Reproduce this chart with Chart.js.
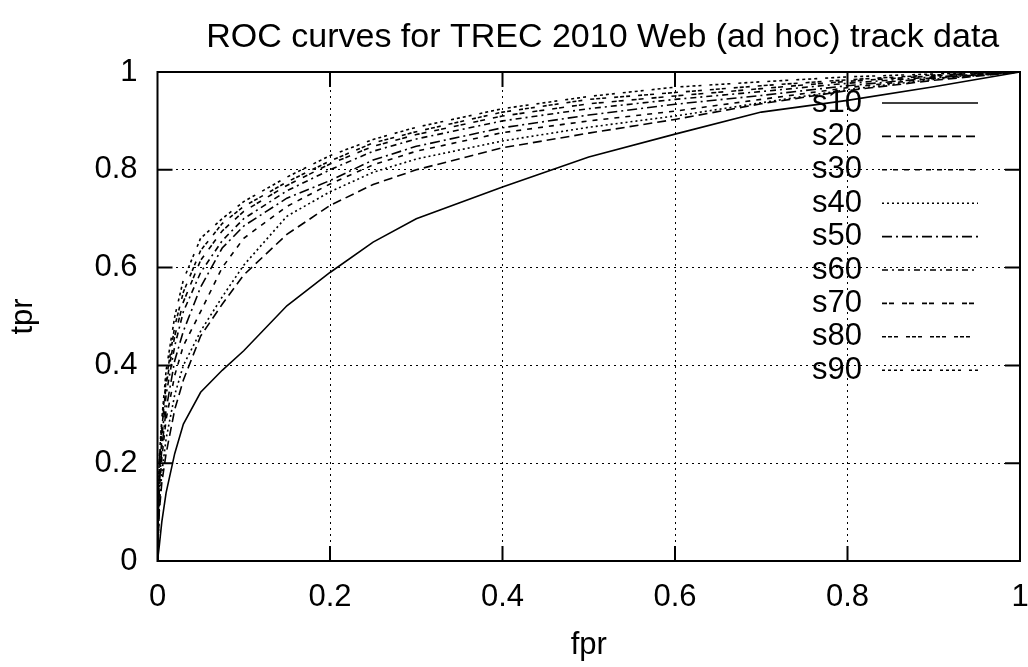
<!DOCTYPE html>
<html>
<head>
<meta charset="utf-8">
<script src="https://cdn.jsdelivr.net/npm/chart.js@4.4.0/dist/chart.umd.min.js"></script>
<style>
  html, body { margin: 0; padding: 0; background: #fff; }
  #wrap { width: 1028px; height: 667px; }
</style>
</head>
<body>
<div id="wrap"><canvas id="rocChart"></canvas></div>
<script>
// ROC data (same fpr points for every curve)
const fpr = [0, 0.002, 0.005, 0.01, 0.02, 0.03, 0.05, 0.075, 0.1, 0.15, 0.2, 0.25, 0.3, 0.4, 0.5, 0.6, 0.7, 0.8, 0.9, 1];

const s10 = [0, 0.03, 0.08, 0.14, 0.22, 0.28, 0.345, 0.39, 0.43, 0.522, 0.59, 0.652, 0.70, 0.765, 0.826, 0.873, 0.918, 0.942, 0.97, 1];
const s20 = [0, 0.10, 0.16, 0.22, 0.31, 0.37, 0.46, 0.525, 0.585, 0.668, 0.727, 0.77, 0.80, 0.845, 0.875, 0.903, 0.935, 0.962, 0.983, 1];
const s30 = [0, 0.14, 0.21, 0.29, 0.38, 0.44, 0.51, 0.60, 0.66, 0.725, 0.771, 0.81, 0.838, 0.876, 0.90, 0.92, 0.944, 0.968, 0.987, 1];
const s40 = [0, 0.11, 0.18, 0.25, 0.34, 0.40, 0.47, 0.54, 0.605, 0.705, 0.755, 0.795, 0.822, 0.859, 0.887, 0.91, 0.937, 0.964, 0.985, 1];
const s50 = [0, 0.15, 0.23, 0.31, 0.41, 0.47, 0.56, 0.64, 0.685, 0.742, 0.778, 0.82, 0.848, 0.886, 0.912, 0.934, 0.952, 0.972, 0.988, 1];
const s60 = [0, 0.17, 0.25, 0.34, 0.44, 0.51, 0.59, 0.655, 0.70, 0.757, 0.80, 0.838, 0.863, 0.90, 0.925, 0.944, 0.96, 0.977, 0.99, 1];
const s70 = [0, 0.19, 0.27, 0.36, 0.46, 0.53, 0.615, 0.675, 0.715, 0.768, 0.812, 0.848, 0.872, 0.91, 0.935, 0.951, 0.966, 0.981, 0.992, 1];
const s80 = [0, 0.20, 0.28, 0.37, 0.48, 0.55, 0.635, 0.69, 0.725, 0.775, 0.818, 0.855, 0.878, 0.918, 0.944, 0.958, 0.972, 0.984, 0.994, 1];
const s90 = [0, 0.21, 0.29, 0.39, 0.50, 0.575, 0.66, 0.70, 0.735, 0.785, 0.829, 0.862, 0.887, 0.925, 0.95, 0.969, 0.98, 0.99, 0.996, 1];

const seriesNames = ["s10", "s20", "s30", "s40", "s50", "s60", "s70", "s80", "s90"];
const seriesTpr = [s10, s20, s30, s40, s50, s60, s70, s80, s90];

const axisTicks = [0, 0.2, 0.4, 0.6, 0.8, 1];
const chartTitle = "ROC curves for TREC 2010 Web (ad hoc) track data";

// gnuplot-ish line types
const dashes = [
  [],
  [9, 5],
  [5, 6],
  [2, 3],
  [10, 4, 2, 4],
  [6, 4, 2, 4],
  [5, 2, 5, 8],
  [4, 2, 4, 2, 4, 8],
  [3, 3, 3, 3, 3, 3, 3, 8],
];

const fontFam = '"Liberation Sans", Arial, sans-serif';

const datasets = seriesNames.map((name, i) => ({
  label: name,
  data: fpr.map((f, j) => ({ x: f, y: seriesTpr[i][j] })),
  borderColor: "#000",
  borderWidth: 1.6,
  borderDash: dashes[i],
  pointRadius: 0,
  tension: 0,
  fill: false,
}));

// box, inner tick marks, title and legend like gnuplot draws them
const gnuplotFrame = {
  id: "gnuplotFrame",
  afterDraw(chart) {
    const { ctx, chartArea: a } = chart;
    const xs = chart.scales.x;
    const ys = chart.scales.y;
    ctx.save();
    ctx.setLineDash([]);
    ctx.strokeStyle = "#000";
    ctx.lineWidth = 2;
    ctx.strokeRect(a.left, a.top, a.right - a.left, a.bottom - a.top);

    const tl = 15;
    ctx.beginPath();
    axisTicks.forEach((v) => {
      if (v <= 0 || v >= 1) return;
      const px = xs.getPixelForValue(v);
      ctx.moveTo(px, a.bottom); ctx.lineTo(px, a.bottom - tl);
      ctx.moveTo(px, a.top); ctx.lineTo(px, a.top + tl);
      const py = ys.getPixelForValue(v);
      ctx.moveTo(a.left, py); ctx.lineTo(a.left + tl, py);
      ctx.moveTo(a.right, py); ctx.lineTo(a.right - tl, py);
    });
    ctx.stroke();

    // title
    ctx.fillStyle = "#000";
    ctx.font = "34px " + fontFam;
    ctx.textAlign = "center";
    ctx.textBaseline = "middle";
    ctx.fillText(chartTitle, (a.left + a.right) / 2 + 14, 38);

    // legend, inside top right
    ctx.font = "31px " + fontFam;
    ctx.textAlign = "right";
    chart.data.datasets.forEach((ds, i) => {
      const yy = a.top + 31 + i * 33.4;
      ctx.fillText(ds.label, a.right - 158, yy);
      ctx.beginPath();
      ctx.setLineDash(ds.borderDash);
      ctx.lineWidth = ds.borderWidth;
      ctx.moveTo(a.right - 138, yy);
      ctx.lineTo(a.right - 42, yy);
      ctx.stroke();
    });
    ctx.restore();
  },
};

const gridColor = (c) => (c.tick && (c.tick.value === 0 || c.tick.value === 1) ? "rgba(0,0,0,0)" : "#000");

const ctx = document.querySelector("#rocChart").getContext("2d");
const rocChart = new Chart(ctx, {
  type: "line",
  data: { datasets: datasets },
  options: {
    responsive: true,
    maintainAspectRatio: false,
    animation: false,
    layout: { padding: { top: 72, right: 8, left: 0, bottom: 0 } },
    plugins: {
      legend: { display: false },
      title: { display: false },
      tooltip: { enabled: false },
    },
    scales: {
      x: {
        type: "linear",
        min: 0,
        max: 1,
        afterFit: (scale) => {
          scale.height = 106;
          scale.paddingLeft = 0;
          scale.paddingRight = 0;
        },
        afterBuildTicks: (scale) => { scale.ticks = axisTicks.map((v) => ({ value: v })); },
        ticks: {
          color: "#000",
          font: { size: 31, family: fontFam },
          padding: 18,
          maxRotation: 0,
          autoSkip: false,
          callback: (v) => String(v),
        },
        grid: { color: gridColor, lineWidth: 1, drawTicks: false },
        border: { display: false, dash: [2, 4] },
        title: {
          display: true,
          text: "fpr",
          color: "#000",
          font: { size: 31, family: fontFam },
          padding: { top: 0, bottom: 3 },
        },
      },
      y: {
        type: "linear",
        min: 0,
        max: 1,
        afterFit: (scale) => {
          scale.width = 157.5;
          scale.paddingTop = 0;
          scale.paddingBottom = 0;
        },
        afterBuildTicks: (scale) => { scale.ticks = axisTicks.map((v) => ({ value: v })); },
        ticks: {
          color: "#000",
          font: { size: 31, family: fontFam },
          padding: 20,
          callback: (v) => String(v),
        },
        grid: { color: gridColor, lineWidth: 1, drawTicks: false },
        border: { display: false, dash: [2, 4] },
        title: {
          display: true,
          text: "tpr",
          color: "#000",
          font: { size: 31, family: fontFam },
          padding: { top: 5, bottom: 0 },
        },
      },
    },
  },
  plugins: [gnuplotFrame],
});
</script>
</body>
</html>
